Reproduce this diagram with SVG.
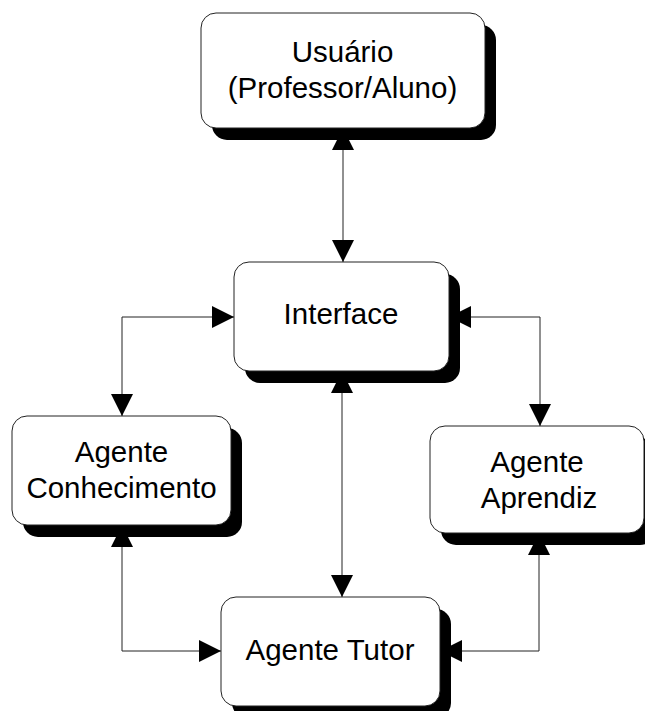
<svg xmlns="http://www.w3.org/2000/svg" width="645" height="711" viewBox="0 0 645 711">
  <style>
    .box { fill: #fff; stroke: #222; stroke-width: 1; }
    .shadow { fill: #000; }
    .label { font-family: "Liberation Sans", Arial, sans-serif; font-size: 29.5px; fill: #000; text-anchor: middle; }
    .link { fill: none; stroke: #222; stroke-width: 1; marker-start: url(#head); marker-end: url(#head); }
  </style>
  <defs>
    <marker id="head" viewBox="0 0 22 22" refX="22" refY="11" markerWidth="22" markerHeight="22" markerUnits="userSpaceOnUse" orient="auto-start-reverse">
      <path d="M0,0 L22,11 L0,22 Z" fill="#000"/>
    </marker>
  </defs>
  <rect width="645" height="711" fill="#fff"/>

  <!-- two-way connectors between the components -->
  <g id="connectors">
    <path class="link" d="M343,128 V262"/>
    <path class="link" d="M234,317 H122 V416"/>
    <path class="link" d="M449,317 H540 V426"/>
    <path class="link" d="M342,371 V597"/>
    <path class="link" d="M122,525 V651 H221"/>
    <path class="link" d="M539,533 V651 H440"/>
  </g>

  <g id="usuario">
    <rect class="shadow" x="212" y="25" width="284" height="115" rx="15"/>
    <rect class="box" x="201" y="13" width="284" height="115" rx="15"/>
    <text class="label" x="342.5" y="62">Usuário</text>
    <text class="label" x="342.5" y="98">(Professor/Aluno)</text>
  </g>

  <g id="interface">
    <rect class="shadow" x="245" y="274" width="215" height="109" rx="15"/>
    <rect class="box" x="234" y="262" width="215" height="109" rx="15"/>
    <text class="label" x="341" y="324">Interface</text>
  </g>

  <g id="agente-conhecimento">
    <rect class="shadow" x="23" y="428" width="219" height="109" rx="15"/>
    <rect class="box" x="12" y="416" width="219" height="109" rx="15"/>
    <text class="label" x="121.5" y="462">Agente</text>
    <text class="label" x="121.5" y="498">Conhecimento</text>
  </g>

  <g id="agente-aprendiz">
    <rect class="shadow" x="441" y="438" width="214" height="107" rx="15"/>
    <rect class="box" x="430" y="426" width="214" height="107" rx="15"/>
    <text class="label" x="537" y="472">Agente</text>
    <text class="label" x="539" y="508">Aprendiz</text>
  </g>

  <g id="agente-tutor">
    <rect class="shadow" x="232" y="609" width="219" height="109" rx="15"/>
    <rect class="box" x="221" y="597" width="219" height="109" rx="15"/>
    <text class="label" x="330" y="660">Agente Tutor</text>
  </g>
</svg>
